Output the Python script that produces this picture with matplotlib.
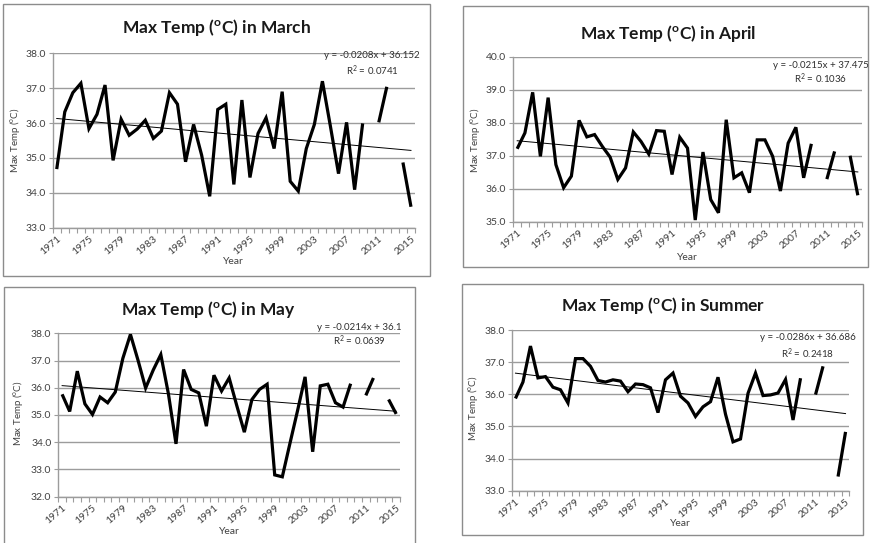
import numpy as np
import matplotlib
matplotlib.use("Agg")
import matplotlib.pyplot as plt
from matplotlib.patches import Rectangle

plt.rcParams['font.family'] = ['Lato', 'DejaVu Sans']
plt.rcParams['mathtext.default'] = 'regular'

nan = np.nan
years = np.arange(1971, 2016)
label_years = np.arange(1971, 2016, 4)

march = [34.68, 36.32, 36.87, 37.14, 35.84, 36.25, 37.09, 34.93, 36.11, 35.65,
         35.83, 36.08, 35.56, 35.77, 36.87, 36.54, 34.89, 35.96, 35.08, 33.90,
         36.39, 36.54, 34.24, 36.66, 34.44, 35.70, 36.15, 35.27, 36.90, 34.33,
         34.05, 35.27, 35.96, 37.20, 35.90, 34.55, 36.02, 34.09, 35.99, nan,
         36.02, 37.04, nan, 34.87, 33.60]
april = [37.21, 37.69, 38.92, 36.98, 38.76, 36.73, 36.03, 36.38, 38.07, 37.57,
         37.64, 37.28, 36.96, 36.28, 36.63, 37.72, 37.43, 37.05, 37.76, 37.74,
         36.43, 37.56, 37.23, 35.05, 37.11, 35.67, 35.27, 38.09, 36.33, 36.48,
         35.88, 37.48, 37.48, 36.98, 35.93, 37.38, 37.86, 36.33, 37.36, nan,
         36.29, 37.13, nan, 37.00, 35.80]
may = [35.76, 35.13, 36.61, 35.41, 35.02, 35.66, 35.45, 35.84, 37.08, 37.96,
       37.01, 35.99, 36.65, 37.22, 35.78, 33.94, 36.67, 35.94, 35.81, 34.59,
       36.46, 35.88, 36.36, 35.35, 34.37, 35.57, 35.94, 36.13, 32.80, 32.73,
       33.95, 35.15, 36.40, 33.65, 36.07, 36.13, 35.45, 35.29, 36.15, nan,
       35.72, 36.36, nan, 35.57, 35.04]
summer = [35.87, 36.38, 37.50, 36.51, 36.55, 36.22, 36.14, 35.73, 37.11, 37.11,
          36.87, 36.43, 36.38, 36.45, 36.41, 36.08, 36.32, 36.30, 36.20, 35.43,
          36.45, 36.66, 35.94, 35.73, 35.31, 35.61, 35.77, 36.53, 35.38, 34.52,
          34.61, 36.03, 36.66, 35.96, 35.98, 36.04, 36.46, 35.20, 36.50, nan,
          35.99, 36.87, nan, 33.44, 34.83]

months = ["March", "April", "May", "Summer"]
slopes = [-0.0208, -0.0215, -0.0214, -0.0286]
intercepts = [36.152, 37.475, 36.1, 36.686]
r2_text = ["0.0741", "0.1036", "0.0639", "0.2418"]
intercept_text = ["36.152", "37.475", "36.1", "36.686"]
y_ranges = [(33, 38), (35, 40), (32, 38), (33, 38)]
series = [march, april, may, summer]

W, H = 872, 543
fig = plt.figure(figsize=(W / 100, H / 100), dpi=100)


def fx(x):
    return x / W


def fy(y):
    return 1 - y / H


# pixel layout of each excel chart: border, plot area, title, equation, axis labels
layout = [
    dict(border=(3, 4, 430, 276), plot=(52.7, 53.3, 415, 227.7), title=(217, 27),
         eq=(372, 55.5, 70.5), ylab=(15, 140), xlab=262),
    dict(border=(463, 6, 868, 267), plot=(513.3, 56.7, 861.7, 221.7), title=(668, 33),
         eq=(821, 65, 79), ylab=(475, 140), xlab=258),
    dict(border=(4, 287, 415, 560), plot=(58.3, 333.3, 400, 496.7), title=(208, 309),
         eq=(359, 328, 341), ylab=(18, 413), xlab=532),
    dict(border=(462, 284, 863, 535), plot=(511.7, 330, 849.3, 490.7), title=(663, 306),
         eq=(808, 338, 354), ylab=(473, 408), xlab=523),
]

grid_col = '#9c9c9c'
text_col = '#404040'

for i, lay in enumerate(layout):
    bx0, by0, bx1, by1 = lay['border']
    fig.add_artist(Rectangle((fx(bx0), fy(by1)), fx(bx1 - bx0), (by1 - by0) / H,
                             transform=fig.transFigure, fill=False,
                             edgecolor='#8c8c8c', lw=1))
    x0, y0, x1, y1 = lay['plot']
    ax = fig.add_axes([fx(x0), fy(y1), fx(x1 - x0), (y1 - y0) / H])
    lo, hi = y_ranges[i]
    ax.set_xlim(1970.5, 2015.5)
    ax.set_ylim(lo, hi)
    ax.set_yticks(np.arange(lo, hi + 0.1, 1.0))
    ax.set_yticklabels([f"{v:.1f}" for v in np.arange(lo, hi + 0.1, 1.0)])
    ax.yaxis.grid(True, color=grid_col, lw=1)
    ax.set_axisbelow(True)

    # category boundaries as tick marks, labels every four years
    ax.set_xticks(np.arange(1970.5, 2016, 1.0))
    ax.set_xticklabels([])
    ax.set_xticks(label_years, minor=True)
    ax.set_xticklabels([str(y) for y in label_years], minor=True, rotation=40,
                       ha='right', rotation_mode='anchor', fontsize=7.5, color=text_col)
    ax.tick_params(axis='x', which='major', length=3.5, color=grid_col, width=0.8)
    ax.tick_params(axis='x', which='minor', length=0, pad=5)
    ax.tick_params(axis='y', length=3, color=grid_col, width=0.8, labelsize=7.5,
                   labelcolor=text_col, pad=2)
    for s in ['top', 'right']:
        ax.spines[s].set_visible(False)
    for s in ['left', 'bottom']:
        ax.spines[s].set_color(grid_col)
        ax.spines[s].set_linewidth(1)

    ax.plot(years, series[i], color='black', lw=2.3, solid_joinstyle='miter',
            solid_capstyle='butt', zorder=3)
    idx = np.arange(1, len(years) + 1)
    ax.plot(years, slopes[i] * idx + intercepts[i], color='black', lw=0.7, zorder=2)

    tx, ty = lay['title']
    fig.text(fx(tx), fy(ty), f"Max Temp ($^o$C) in {months[i]}", ha='center',
             va='center', fontsize=12.5, fontweight='bold', color='#1a1a1a')
    ex, ey1, ey2 = lay['eq']
    fig.text(fx(ex), fy(ey1), f"y = {slopes[i]}x + {intercept_text[i]}", ha='center',
             va='center', fontsize=7, color='#303030')
    fig.text(fx(ex), fy(ey2), f"R$^2$ = {r2_text[i]}", ha='center', va='center',
             fontsize=7, color='#303030')
    lx, ly = lay['ylab']
    fig.text(fx(lx), fy(ly), "Max Temp ($^o$C)", rotation=90, ha='center',
             va='center', fontsize=7, color=text_col)
    fig.text(fx((x0 + x1) / 2), fy(lay['xlab']), "Year", ha='center', va='center',
             fontsize=7.5, color=text_col)

fig.savefig("out.png", dpi=100, facecolor='white')
